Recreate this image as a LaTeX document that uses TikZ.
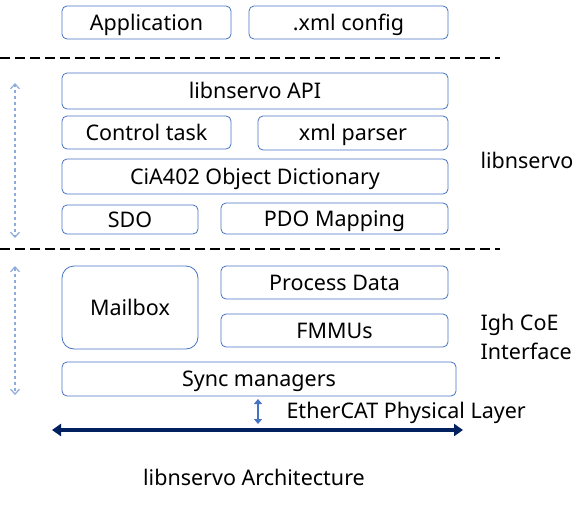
\documentclass[tikz,border=0pt]{standalone}
\usepackage{fontspec}
\setmainfont{Noto Sans}
\usetikzlibrary{arrows.meta}
\definecolor{boxblue}{HTML}{4472C4}
\definecolor{lightblue}{HTML}{8FAADC}
\definecolor{navy}{HTML}{002060}
\begin{document}
\begin{tikzpicture}[
        x=1pt, y=-1pt,
        font=\fontsize{21.5}{29}\selectfont,
        box/.style={draw=boxblue, line width=0.8pt, rounded corners=5pt, inner sep=0pt,
          text height=15.4pt, text depth=0pt},
        sep/.style={line width=2.8pt, dash pattern=on 10pt off 5pt},
        side/.style={lightblue, line width=1.2pt, dashed, {Straight Barb[length=5pt,width=9pt]}-{Straight Barb[length=5pt,width=9pt]}}
      ]
      \useasboundingbox (0,0) rectangle (588,506);

      \node[box, minimum width=169pt, minimum height=33pt] (app) at (146.5,22.5) {Application};
      \node[box, minimum width=199pt, minimum height=33pt] (xmlcfg) at (348.5,22.5) {.xml config};

      \node[box, minimum width=386pt, minimum height=36pt] (api) at (255,91) {libnservo API};
      \node[box, minimum width=169pt, minimum height=33pt] (ctrl) at (146.5,132.5) {Control task};
      \node[box, minimum width=190pt, minimum height=34pt] (parser) at (353,133) {xml parser};
      \node[box, minimum width=386pt, minimum height=35pt] (dict) at (255,176.5) {CiA402 Object Dictionary};
      \node[box, minimum width=136pt, minimum height=29pt] (sdo) at (130,219.5) {SDO};
      \node[box, minimum width=227pt, minimum height=31pt] (pdo) at (334.5,218.5) {PDO Mapping};

      \node[box, rounded corners=12pt, minimum width=136pt, minimum height=83pt] (mailbox) at (130,307.5) {Mailbox};
      \node[box, minimum width=227pt, minimum height=33pt] (procdata) at (334.5,282.5) {Process Data};
      \node[box, minimum width=227pt, minimum height=33pt] (fmmu) at (334.5,330.5) {FMMUs};
      \node[box, minimum width=394pt, minimum height=34pt] (sync) at (259,379) {Sync managers};

      \node[anchor=west] (lib) at (477,160) {libnservo};
      \node[anchor=west, align=left] (igh) at (477,337) {Igh CoE\\Interface};
      \node[anchor=west] (phys) at (283,413) {EtherCAT Physical Layer};
      \node (title) at (254,477) {libnservo Architecture};

      % Draw the layer separators
      \coordinate (s1a) at (0,58);   \coordinate (s1b) at (500,58);
      \coordinate (s2a) at (0,249);  \coordinate (s2b) at (500,249);
      \draw[sep] (s1a) -- (s1b);
      \draw[sep] (s2a) -- (s2b);

      % Draw the side arrows
      \coordinate (u1) at (15,83);  \coordinate (d1) at (15,238);
      \coordinate (u2) at (15,266); \coordinate (d2) at (15,395);
      \draw[side] (u1) -- (d1);
      \draw[side] (u2) -- (d2);

      % Draw the bus
      \coordinate (busl) at (52,430); \coordinate (busr) at (463,430);
      \coordinate (tap) at (258,399); \coordinate (tapend) at (258,424);
      \draw[navy, line width=3.5pt, {Triangle[length=9pt,width=12pt]}-{Triangle[length=9pt,width=12pt]}] (busl) -- (busr);
      \draw[boxblue, line width=2.4pt, {Triangle[length=5pt,width=8pt]}-{Triangle[length=5pt,width=8pt]}] (tap) -- (tapend);

    \end{tikzpicture}
\end{document}
